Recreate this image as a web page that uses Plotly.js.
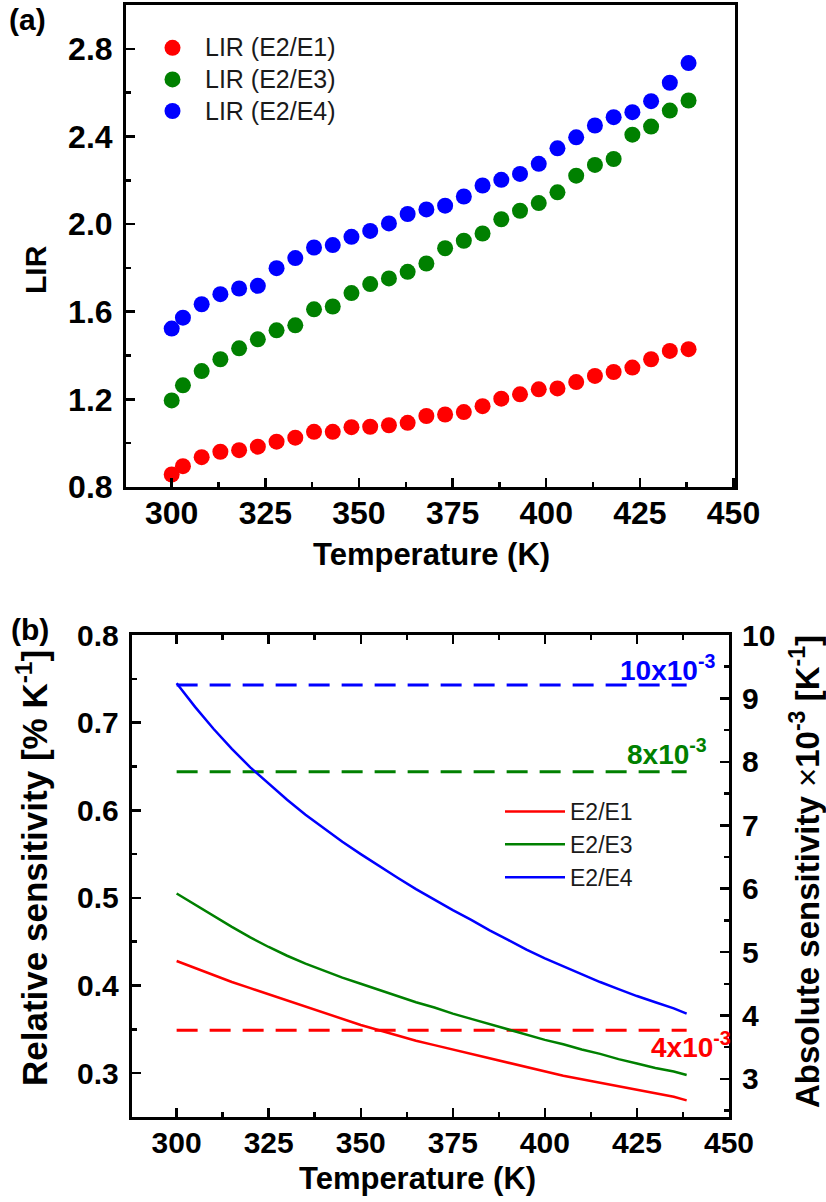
<!DOCTYPE html>
<html>
<head>
<meta charset="utf-8">
<script src="https://cdn.plot.ly/plotly-3.0.1.min.js"></script>
<style>html,body{margin:0;padding:0;background:#fff;}</style>
</head>
<body>
<div id="chart" style="width:826px;height:1202px;"></div>
<script>
// ---------- Panel (a) data ----------
const tempA = [300,303,308,313,318,323,328,333,338,343,348,353,358,363,368,373,378,383,388,393,398,403,408,413,418,423,428,433,438];
const lirE2E1 = [0.857,0.895,0.936,0.961,0.968,0.984,1.007,1.025,1.052,1.052,1.073,1.075,1.082,1.093,1.124,1.131,1.142,1.169,1.203,1.223,1.246,1.250,1.279,1.307,1.325,1.345,1.383,1.421,1.429];
const lirE2E3 = [1.195,1.264,1.329,1.383,1.433,1.474,1.515,1.538,1.611,1.624,1.685,1.726,1.752,1.782,1.820,1.890,1.924,1.957,2.022,2.061,2.096,2.145,2.221,2.270,2.297,2.408,2.445,2.518,2.564];
const lirE2E4 = [1.523,1.573,1.634,1.680,1.706,1.718,1.799,1.845,1.893,1.904,1.942,1.969,2.003,2.046,2.067,2.084,2.126,2.176,2.202,2.229,2.275,2.346,2.396,2.450,2.488,2.511,2.561,2.645,2.735];
const legendA = ['LIR (E2/E1)', 'LIR (E2/E3)', 'LIR (E2/E4)'];

// ---------- Panel (b) data ----------
const tempB = [300,305,310,315,320,325,330,335,340,345,350,355,360,365,370,375,380,385,390,395,400,405,410,415,420,425,430,435,438.5];
const srE2E1 = [0.428,0.420,0.412,0.404,0.397,0.390,0.383,0.376,0.369,0.362,0.355,0.349,0.343,0.337,0.332,0.327,0.322,0.317,0.312,0.307,0.302,0.297,0.293,0.289,0.285,0.281,0.277,0.273,0.269];
const srE2E3 = [0.505,0.492,0.479,0.467,0.455,0.444,0.434,0.425,0.417,0.409,0.402,0.395,0.388,0.381,0.375,0.368,0.362,0.356,0.350,0.344,0.338,0.333,0.327,0.322,0.316,0.311,0.306,0.302,0.298];
const srE2E4 = [0.745,0.718,0.693,0.670,0.649,0.630,0.612,0.595,0.579,0.564,0.550,0.536,0.523,0.510,0.498,0.486,0.475,0.463,0.452,0.441,0.431,0.422,0.413,0.404,0.396,0.388,0.381,0.374,0.368];
const legendB = ['E2/E1', 'E2/E3', 'E2/E4'];
const refTemp = [300, 438.5];
const refBlue = [0.743, 0.743];
const refGreen = [0.644, 0.644];
const refRed = [0.349, 0.349];
const refLabels = ['10x10<sup>-3</sup>', '8x10<sup>-3</sup>', '4x10<sup>-3</sup>'];

const F = 'Liberation Sans, Arial, sans-serif';
const RED = '#ff0000', GREEN = '#008000', BLUE = '#0000ff';

const mk = (c) => ({color: c, size: 16, line: {width: 0}});
const bigA = (s) => '<span style="font-size:25px">' + s + '</span>';

const traces = [
  {x: tempA, y: lirE2E1, type: 'scatter', mode: 'markers', name: bigA(legendA[0]), marker: mk(RED), xaxis: 'x', yaxis: 'y', legend: 'legend'},
  {x: tempA, y: lirE2E3, type: 'scatter', mode: 'markers', name: bigA(legendA[1]), marker: mk(GREEN), xaxis: 'x', yaxis: 'y', legend: 'legend'},
  {x: tempA, y: lirE2E4, type: 'scatter', mode: 'markers', name: bigA(legendA[2]), marker: mk(BLUE), xaxis: 'x', yaxis: 'y', legend: 'legend'},
  {x: refTemp, y: refBlue, type: 'scatter', mode: 'lines', line: {color: BLUE, width: 3, dash: '21px,12px'}, xaxis: 'x2', yaxis: 'y2', showlegend: false},
  {x: refTemp, y: refGreen, type: 'scatter', mode: 'lines', line: {color: GREEN, width: 3, dash: '21px,12px'}, xaxis: 'x2', yaxis: 'y2', showlegend: false},
  {x: refTemp, y: refRed, type: 'scatter', mode: 'lines', line: {color: RED, width: 3, dash: '21px,12px'}, xaxis: 'x2', yaxis: 'y2', showlegend: false},
  {x: tempB, y: srE2E1, type: 'scatter', mode: 'lines', name: legendB[0], line: {color: RED, width: 2.5}, xaxis: 'x2', yaxis: 'y2', legend: 'legend2', legendgroup: 'b1'},
  {x: tempB, y: srE2E3, type: 'scatter', mode: 'lines', name: legendB[1], line: {color: GREEN, width: 2.5}, xaxis: 'x2', yaxis: 'y2', legend: 'legend2', legendgroup: 'b2'},
  {x: tempB, y: srE2E4, type: 'scatter', mode: 'lines', name: legendB[2], line: {color: BLUE, width: 2.5}, xaxis: 'x2', yaxis: 'y2', legend: 'legend2', legendgroup: 'b3'},
  // empty trace so the right-hand (absolute sensitivity) axis is drawn
  {x: [], y: [], type: 'scatter', mode: 'lines', xaxis: 'x2', yaxis: 'y3', showlegend: false, hoverinfo: 'skip'}
];

const tickFontA = {family: F, size: 32, color: 'black', weight: 'bold'};
const tickFontB = {family: F, size: 30, color: 'black', weight: 'bold'};
const axBase = {showline: true, linewidth: 3, linecolor: 'black', showgrid: false, zeroline: false,
  ticks: 'inside', ticklen: 9, tickwidth: 2.5, tickcolor: 'black'};

const W = 826, H = 1202;
const px = (v) => v / W, py = (v) => 1 - v / H;

const ann = (text, x, y, size, extra) => Object.assign({
  text: text, xref: 'paper', yref: 'paper', x: px(x), y: py(y), xanchor: 'center', yanchor: 'middle',
  showarrow: false, font: {family: F, size: size, weight: 'bold', color: 'black'}
}, extra || {});

const layout = {
  width: W, height: H,
  margin: {l: 0, r: 0, t: 0, b: 0},
  paper_bgcolor: 'white', plot_bgcolor: 'white',
  font: {family: F, color: 'black'},
  showlegend: true,
  xaxis: Object.assign({}, axBase, {
    domain: [px(126), px(735)], anchor: 'y', range: [287.8, 450.4],
    tick0: 300, dtick: 25, mirror: true, tickfont: tickFontA, ticklabelstandoff: -4,
    minor: {dtick: 12.5, tick0: 300, ticks: 'inside', ticklen: 5, tickwidth: 2.5, tickcolor: 'black'}
  }),
  yaxis: Object.assign({}, axBase, {
    domain: [py(487), py(5)], anchor: 'x', range: [0.8, 3.0],
    tick0: 0.8, dtick: 0.4, tickformat: '.1f', mirror: true, tickfont: tickFontA, ticklabelstandoff: 4,
    minor: {dtick: 0.2, tick0: 0.8, ticks: 'inside', ticklen: 5, tickwidth: 2.5, tickcolor: 'black'}
  }),
  xaxis2: Object.assign({}, axBase, {
    domain: [px(131.7), px(729)], anchor: 'y2', range: [287.8, 450],
    tick0: 300, dtick: 25, mirror: 'ticks', tickfont: tickFontB, ticklabelstandoff: -3,
    minor: {dtick: 12.5, tick0: 300, ticks: 'inside', ticklen: 5, tickwidth: 2.5, tickcolor: 'black'}
  }),
  yaxis2: Object.assign({}, axBase, {
    domain: [py(1117), py(635)], anchor: 'x2', range: [0.25, 0.8],
    tick0: 0.3, dtick: 0.1, tickformat: '.1f', tickfont: tickFontB, ticklabelstandoff: 4,
    minor: {dtick: 0.05, tick0: 0.25, ticks: 'inside', ticklen: 5, tickwidth: 2.5, tickcolor: 'black'}
  }),
  yaxis3: Object.assign({}, axBase, {
    overlaying: 'y2', side: 'right', anchor: 'x2', range: [2.4, 10],
    tick0: 0, dtick: 1, tickfont: tickFontB, ticklabelstandoff: 4,
    minor: {dtick: 0.5, tick0: 0, ticks: 'inside', ticklen: 5, tickwidth: 2.5, tickcolor: 'black'}
  }),
  legend: {x: px(140), y: py(27), xanchor: 'left', yanchor: 'top', bgcolor: 'rgba(0,0,0,0)',
    font: {family: F, size: 22, color: '#1a1a1a'}, itemwidth: 55, tracegroupgap: 0, traceorder: 'normal'},
  legend2: {x: px(500), y: py(790), xanchor: 'left', yanchor: 'top', bgcolor: 'rgba(0,0,0,0)',
    font: {family: F, size: 23, color: '#1a1a1a'}, itemwidth: 60, tracegroupgap: 3, traceorder: 'normal'},
  annotations: [
    ann('(a)', 27, 20, 30),
    ann('(b)', 30, 629, 30),
    ann('LIR', 35, 270, 30, {textangle: -90}),
    ann('Temperature (K)', 431, 554, 31),
    ann('Temperature (K)', 418, 1178, 31),
    ann('Relative sensitivity [% K<sup>-1</sup>]', 32, 868, 35, {textangle: -90}),
    ann('Absolute sensitivity <span style="font-weight:normal">×</span>10<sup>-3</sup> [K<sup>-1</sup>]', 805, 872, 33, {textangle: -90}),
    {text: refLabels[0], xref: 'x2', yref: 'y2', x: 446.8, y: 0.762, xanchor: 'right', yanchor: 'middle', showarrow: false, font: {family: F, size: 28, weight: 'bold', color: BLUE}},
    {text: refLabels[1], xref: 'x2', yref: 'y2', x: 444.6, y: 0.666, xanchor: 'right', yanchor: 'middle', showarrow: false, font: {family: F, size: 28, weight: 'bold', color: GREEN}},
    {text: refLabels[2], xref: 'x2', yref: 'y2', x: 450, xshift: 4, y: 0.332, xanchor: 'right', yanchor: 'middle', showarrow: false, font: {family: F, size: 28, weight: 'bold', color: RED}}
  ]
};

Plotly.newPlot('chart', traces, layout, {displayModeBar: false, staticPlot: true});
</script>
</body>
</html>
